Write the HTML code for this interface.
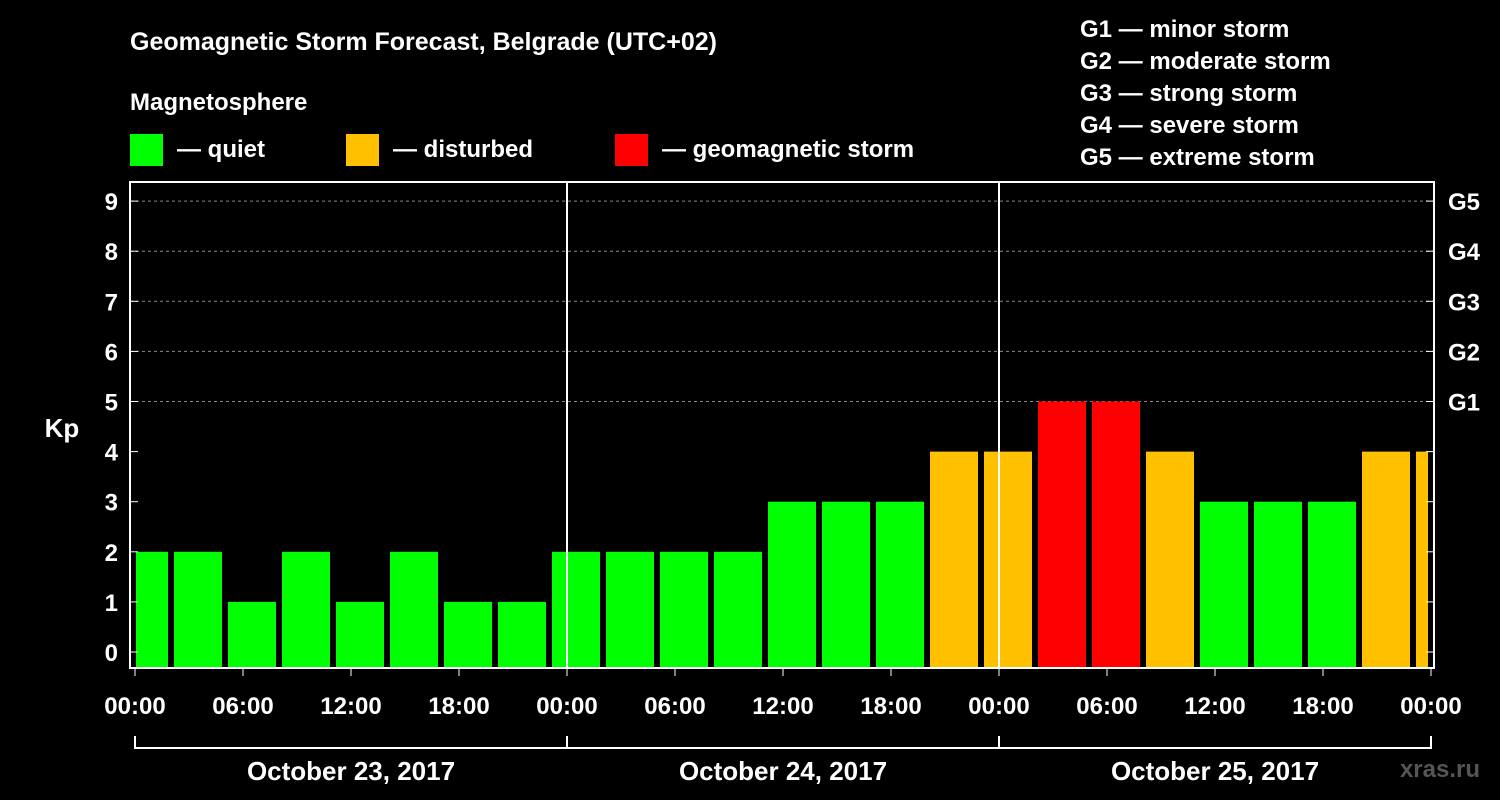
<!DOCTYPE html>
<html><head><meta charset="utf-8"><style>
body{margin:0;background:#000;}
svg{display:block;font-family:"Liberation Sans",Arial,sans-serif;font-weight:bold;}
</style></head><body>
<svg id="chart" width="1500" height="800" viewBox="0 0 1500 800">
<rect width="1500" height="800" fill="#000"/>
<text x="130" y="50" fill="#fff" font-size="25">Geomagnetic Storm Forecast, Belgrade (UTC+02)</text>
<text x="130" y="110" fill="#fff" font-size="24">Magnetosphere</text>
<g><rect x="130" y="134" width="33" height="32" fill="#00ff00"/><text x="177" y="157" fill="#fff" font-size="24">— quiet</text></g>
<g><rect x="346" y="134" width="33" height="32" fill="#ffc000"/><text x="393" y="157" fill="#fff" font-size="24">— disturbed</text></g>
<g><rect x="615" y="134" width="33" height="32" fill="#ff0000"/><text x="662" y="157" fill="#fff" font-size="24">— geomagnetic storm</text></g>
<g fill="#fff" font-size="24">
<text x="1080" y="37">G1 — minor storm</text>
<text x="1080" y="69">G2 — moderate storm</text>
<text x="1080" y="101">G3 — strong storm</text>
<text x="1080" y="133">G4 — severe storm</text>
<text x="1080" y="165">G5 — extreme storm</text>
</g>
<text x="62" y="437" fill="#fff" font-size="26" text-anchor="middle">Kp</text>
<text x="1480" y="777" fill="#555" font-size="24" text-anchor="end">xras.ru</text>
<g id="grid"></g><g id="bars"></g><g id="axes"></g>
</svg>
<script>
const kpValues=[2,2,1,2,1,2,1,1,2,2,2,2,3,3,3,4,4,5,5,4,3,3,3,4,4];
const barStartHours=[-1,2,5,8,11,14,17,20,23,26,29,32,35,38,41,44,47,50,53,56,59,62,65,68,71];
const yTicks=[0,1,2,3,4,5,6,7,8,9];
const gLabels=["","","","","","G1","G2","G3","G4","G5"];
const xTickLabels=["00:00","06:00","12:00","18:00","00:00","06:00","12:00","18:00","00:00","06:00","12:00","18:00","00:00"];
const dayLabels=["October 23, 2017","October 24, 2017","October 25, 2017"];
const NS="http://www.w3.org/2000/svg";
const L=130,R=1434,T=182,B=668,X0=135,PXH=18;
const x=h=>X0+h*PXH;
const y=v=>652-v*50.1;
function mk(tag,attrs,parent,text){const e=document.createElementNS(NS,tag);for(const k in attrs)e.setAttribute(k,attrs[k]);if(text!==undefined)e.textContent=text;parent.appendChild(e);return e;}
const grid=document.getElementById('grid'),bars=document.getElementById('bars'),axes=document.getElementById('axes');
yTicks.forEach((v,i)=>{
 if(v>=5){const g=mk('line',{x1:L,x2:R,y1:y(v),y2:y(v),stroke:'#888','stroke-dasharray':'3,3','stroke-width':1},grid);
 
 }
 const t=mk('text',{x:118,y:y(v)+9,fill:'#fff','font-size':24,'text-anchor':'end'},axes,String(v));
 
 
 mk('line',{x1:L,x2:L+8,y1:y(v),y2:y(v),stroke:'#fff'},axes);
 mk('line',{x1:R-8,x2:R,y1:y(v),y2:y(v),stroke:'#fff'},axes);
 if(gLabels[i]){const g2=mk('text',{x:1448,y:y(v)+9,fill:'#fff','font-size':24},axes,gLabels[i]);
 
 }
});
kpValues.forEach((v,i)=>{
 let x1=Math.max(x(barStartHours[i])+3,L+6),x2=Math.min(x(barStartHours[i]+3)-3,R-6);
 const c=v>=5?'#ff0000':(v>=4?'#ffc000':'#00ff00');
 const r=mk('rect',{x:x1,y:y(v),width:x2-x1,height:B-y(v),fill:c},bars);
 
 
});
[1,2].forEach(d=>mk('line',{x1:x(24*d),x2:x(24*d),y1:T,y2:B,stroke:'#fff','stroke-width':2},axes));
mk('rect',{x:L,y:T,width:R-L,height:B-T,fill:'none',stroke:'#fff','stroke-width':2},axes);
xTickLabels.forEach((s,i)=>{
 mk('line',{x1:x(6*i),x2:x(6*i),y1:B,y2:B+8,stroke:'#fff'},axes);
 const t=mk('text',{x:x(6*i),y:714,fill:'#fff','font-size':24,'text-anchor':'middle'},axes,s);
 
 
});
mk('line',{x1:x(0),x2:x(72),y1:748,y2:748,stroke:'#fff','stroke-width':2},axes);
[0,1,2,3].forEach(d=>mk('line',{x1:x(24*d),x2:x(24*d),y1:736,y2:749,stroke:'#fff','stroke-width':2},axes));
dayLabels.forEach((s,i)=>{
 const t=mk('text',{x:x(24*i+12),y:780,fill:'#fff','font-size':26,'text-anchor':'middle'},axes,s);
 
 
});
</script>
</body></html>
